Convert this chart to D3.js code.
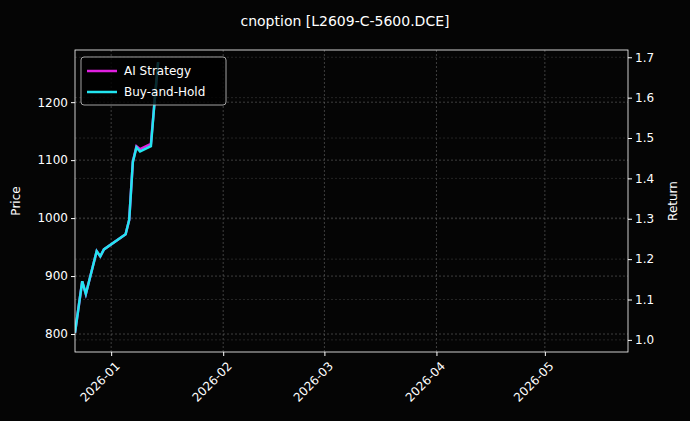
<!DOCTYPE html>
<html><head><meta charset="utf-8">
<script src="https://cdn.jsdelivr.net/npm/d3@7"></script>
<style>body{margin:0;background:#000}</style></head>
<body><svg id="main_svg" width="690" height="421"></svg>
<script>
const dates = ['2025-12-22','2025-12-24','2025-12-25','2025-12-28','2025-12-29','2025-12-30','2026-01-05','2026-01-06','2026-01-07','2026-01-08','2026-01-09','2026-01-12','2026-01-13','2026-01-14'];
const bh_price = [802, 891, 869, 943, 934, 946, 972, 997, 1097, 1122, 1115, 1124, 1200, 1269];
const ai_price = [802, 891, 869, 943, 934, 946, 972, 997, 1097, 1124, 1119, 1128, 1200, 1269];
const x_ticks = ['2026-01-01','2026-02-01','2026-03-01','2026-04-01','2026-05-01'];
const price_ticks = [800, 900, 1000, 1100, 1200];
const return_ticks = [1.0, 1.1, 1.2, 1.3, 1.4, 1.5, 1.6, 1.7];

const L = 75, R = 628, T = 50, B = 352;
const svg = d3.select('#main_svg');
const parse = d3.timeParse('%Y-%m-%d');

const x = d3.scaleTime().domain([parse('2025-12-22'), parse('2026-05-24')]).range([L, R]);
const y = d3.scaleLinear().domain([769, 1290]).range([B, T]);
const y2 = d3.scaleLinear().domain([0.97, 1.718]).range([B, T]);

svg.append('rect').attr('width', 690).attr('height', 421).attr('fill', '#050505');

const grid = svg.append('g').attr('stroke', '#666').attr('stroke-dasharray', '2,2').attr('stroke-width', 0.6);
x_ticks.forEach(d => grid.append('line').attr('x1', x(parse(d))).attr('x2', x(parse(d))).attr('y1', T).attr('y2', B));
price_ticks.forEach(d => grid.append('line').attr('x1', L).attr('x2', R).attr('y1', y(d)).attr('y2', y(d)));
return_ticks.forEach(d => grid.append('line').attr('x1', L).attr('x2', R).attr('y1', y2(d)).attr('y2', y2(d)).attr('stroke', '#3a3a3a'));

const line = d3.line().x(d => x(d[0])).y(d => y(d[1]));
svg.append('clipPath').attr('id', 'c').append('rect').attr('x', L).attr('y', T).attr('width', R - L).attr('height', B - T);
svg.append('path').datum(dates.map((d, i) => [parse(d), ai_price[i]])).attr('d', line)
	.attr('fill', 'none').attr('stroke', '#e020e0').attr('stroke-width', 2.5).attr('clip-path', 'url(#c)');
svg.append('path').datum(dates.map((d, i) => [parse(d), bh_price[i]])).attr('d', line)
	.attr('fill', 'none').attr('stroke', '#22e5f0').attr('stroke-width', 2.5).attr('clip-path', 'url(#c)');

svg.append('rect').attr('x', L).attr('y', T).attr('width', R - L).attr('height', B - T)
	.attr('fill', 'none').attr('stroke', '#fff').attr('stroke-width', 0.8);

const style_axis = g => {
	g.selectAll('path').remove();
	g.selectAll('line').attr('stroke', '#fff');
	g.selectAll('text').attr('fill', '#fff').attr('font-size', 12).attr('font-family', 'DejaVu Sans');
};
svg.append('g').attr('transform', `translate(0,${B})`)
	.call(d3.axisBottom(x).tickValues(x_ticks.map(parse)).tickFormat(d3.timeFormat('%Y-%m')).tickSize(4))
	.call(style_axis)
	.selectAll('text').attr('text-anchor', 'end').attr('dy', 0).attr('dx', 0)
	.attr('transform', 'translate(4,10) rotate(-45)');
svg.append('g').attr('transform', `translate(${L},0)`)
	.call(d3.axisLeft(y).tickValues(price_ticks).tickFormat(d3.format('d')).tickSize(4)).call(style_axis);
svg.append('g').attr('transform', `translate(${R},0)`)
	.call(d3.axisRight(y2).tickValues(return_ticks).tickFormat(d3.format('.1f')).tickSize(4)).call(style_axis);

svg.append('text').attr('x', 345).attr('y', 26).attr('text-anchor', 'middle').attr('fill', '#fff')
	.attr('font-size', 14).attr('font-family', 'DejaVu Sans').text('cnoption [L2609-C-5600.DCE]');
svg.append('text').attr('transform', `translate(20,${(T + B) / 2}) rotate(-90)`).attr('text-anchor', 'middle')
	.attr('fill', '#fff').attr('font-size', 12).attr('font-family', 'DejaVu Sans').text('Price');
svg.append('text').attr('transform', `translate(677,${(T + B) / 2}) rotate(-90)`).attr('text-anchor', 'middle')
	.attr('fill', '#fff').attr('font-size', 12).attr('font-family', 'DejaVu Sans').text('Return');

const leg = svg.append('g').attr('transform', 'translate(81,57)');
leg.append('rect').attr('width', 145).attr('height', 48).attr('rx', 3).attr('fill', '#000').attr('fill-opacity', 0.8)
	.attr('stroke', '#ccc').attr('stroke-width', 0.8);
[['AI Strategy', '#e020e0'], ['Buy-and-Hold', '#22e5f0']].forEach((d, i) => {
	leg.append('line').attr('x1', 6).attr('x2', 36).attr('y1', 14 + i * 21).attr('y2', 14 + i * 21).attr('stroke', d[1]).attr('stroke-width', 2.5);
	leg.append('text').attr('x', 43).attr('y', 18 + i * 21).attr('fill', '#fff').attr('font-size', 12)
		.attr('font-family', 'DejaVu Sans').text(d[0]);
});
</script></body></html>
